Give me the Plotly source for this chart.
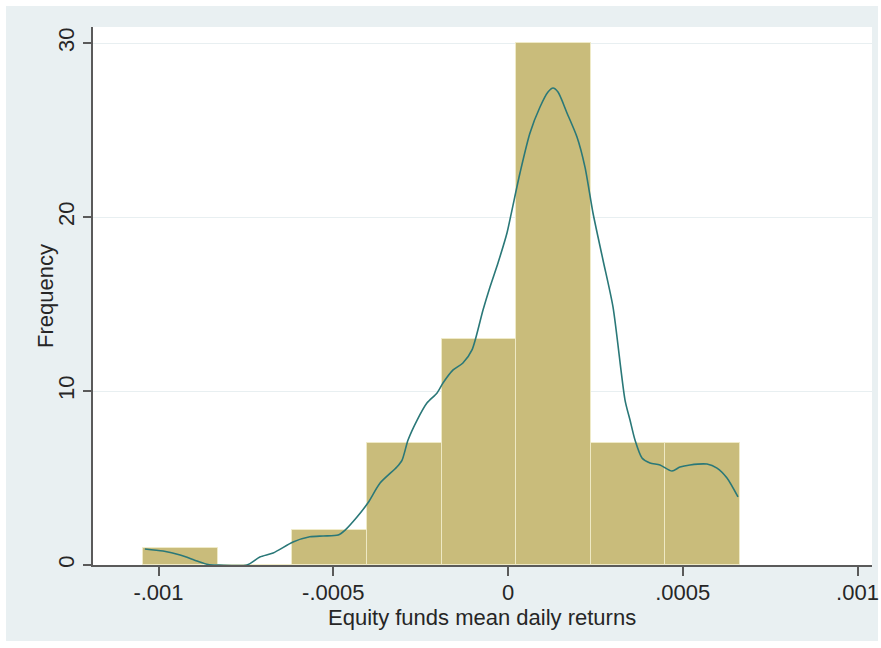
import plotly.graph_objects as go

# Histogram of equity fund mean daily returns (8 bins) with a kernel density overlay
bin_start = -0.001043
bin_width = 0.0002132
counts = [1, 0, 2, 7, 13, 30, 7, 7]

# Kernel density curve, scaled to frequency units
kde_x = [-0.001039, -0.000987, -0.000938, -0.000890, -0.000858, -0.000827, -0.000747,
         -0.000710, -0.000672, -0.000615, -0.000567, -0.000529, -0.000486, -0.000466,
         -0.000432, -0.000401, -0.000366, -0.000318, -0.000303, -0.000286, -0.000260,
         -0.000232, -0.000203, -0.000186, -0.000157, -0.000129, -0.000103, -0.0000715,
         -0.0000515, -0.0000286, -0.0000029, 0.0000114, 0.0000343, 0.0000629, 0.0000916,
         0.0001144, 0.0001288, 0.0001431, 0.0001688, 0.0001974, 0.0002203, 0.0002432,
         0.0002718, 0.0003004, 0.0003348, 0.0003491, 0.0003634, 0.0003834, 0.0004063,
         0.0004349, 0.0004692, 0.0004921, 0.0005207, 0.0005694, 0.0005980, 0.0006266,
         0.0006581]
kde_y = [0.92, 0.80, 0.57, 0.23, 0.03, 0.0, 0.0,
         0.46, 0.69, 1.32, 1.62, 1.67, 1.72, 2.01,
         2.76, 3.56, 4.71, 5.63, 6.03, 7.18, 8.33,
         9.31, 9.89, 10.46, 11.21, 11.61, 12.36, 14.66,
         15.98, 17.36, 19.08, 20.40, 22.53, 24.83, 26.32,
         27.18, 27.41, 27.18, 25.98, 24.60, 22.87, 20.23,
         17.53, 14.83, 9.48, 8.33, 7.18, 6.15, 5.86,
         5.75, 5.40, 5.63, 5.75, 5.80, 5.57, 5.00,
         3.91]

x_tickvals = [-0.001, -0.0005, 0, 0.0005, 0.001]
x_ticktext = ["-.001", "-.0005", "0", ".0005", ".001"]
y_tickvals = [0, 10, 20, 30]
x_title = "Equity funds mean daily returns"
y_title = "Frequency"

bin_centers = [bin_start + (i + 0.5) * bin_width for i in range(len(counts))]

BAR = "#c9bc7b"
LINE = "#2a7878"
PANEL = "#e9f0f2"
GRID = "#e8eff1"
AXIS = "#5a5a5a"
TEXT = "#262626"
FONT = "Liberation Sans, Arial, sans-serif"

fig = go.Figure()
fig.add_trace(go.Bar(
    x=bin_centers, y=counts, width=[bin_width] * len(counts),
    marker=dict(color=BAR, line=dict(color="rgba(240,235,200,0.9)", width=1)),
    showlegend=False, hoverinfo="skip",
))
fig.add_trace(go.Scatter(
    x=kde_x, y=kde_y, mode="lines",
    line=dict(color=LINE, width=1.6, shape="spline", smoothing=0.7),
    showlegend=False, hoverinfo="skip",
))

fig.update_layout(
    width=881, height=648,
    margin=dict(l=93, r=9, t=27, b=83, autoexpand=False),
    paper_bgcolor="white", plot_bgcolor="white",
    font=dict(family=FONT, size=22, color=TEXT),
    bargap=0,
    shapes=[
        # light panel behind the whole graph, white plot region on top
        dict(type="rect", xref="paper", yref="paper", layer="below",
             x0=-0.1117, x1=1.0077, y0=-0.1413, y1=1.039,
             fillcolor=PANEL, line=dict(width=0)),
        dict(type="rect", xref="paper", yref="paper", layer="below",
             x0=0, x1=1, y0=0, y1=1,
             fillcolor="white", line=dict(width=0)),
    ],
    annotations=[
        dict(text=x_title, xref="paper", yref="paper", x=0.4994, y=-0.0985,
             xanchor="center", yanchor="middle", showarrow=False,
             font=dict(size=22, color=TEXT)),
        dict(text=y_title, xref="paper", yref="paper", x=-0.0616, y=0.5,
             xanchor="center", yanchor="middle", textangle=-90, showarrow=False,
             font=dict(size=22, color=TEXT)),
    ],
)
fig.update_xaxes(
    range=[-0.0011874, 0.0010415], automargin=False,
    tickvals=x_tickvals, ticktext=x_ticktext,
    showgrid=False, zeroline=False,
    showline=True, linecolor=AXIS, linewidth=2,
    ticks="outside", ticklen=9, tickwidth=1.5, tickcolor=AXIS,
    tickfont=dict(size=22, color=TEXT), ticklabelstandoff=-2,
)
fig.update_yaxes(
    range=[0, 30.92], automargin=False,
    tickvals=y_tickvals, tickangle=-90,
    showgrid=True, gridcolor=GRID, gridwidth=1, zeroline=False,
    showline=True, linecolor=AXIS, linewidth=2,
    ticks="outside", ticklen=8, tickwidth=1.5, tickcolor=AXIS,
    tickfont=dict(size=22, color=TEXT),
)

fig.write_html("out.html")
